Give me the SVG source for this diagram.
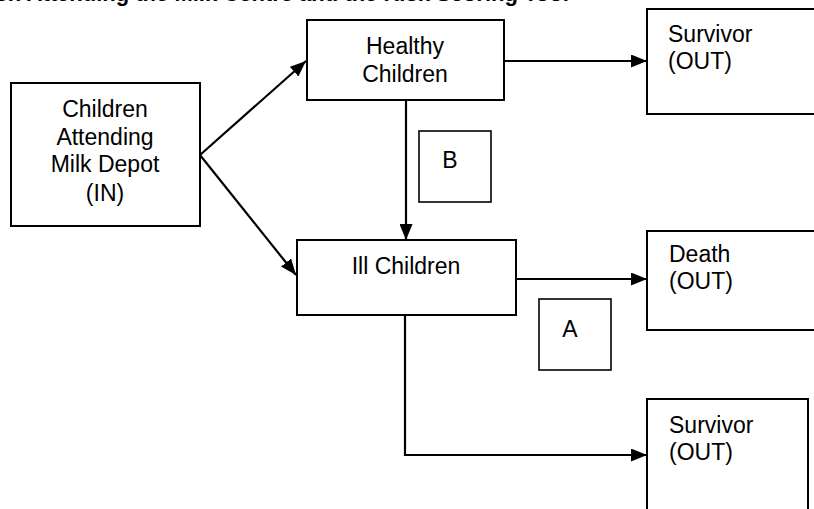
<svg xmlns="http://www.w3.org/2000/svg" width="814" height="509" viewBox="0 0 814 509">
  <style>
    .box { fill: #ffffff; stroke: #000000; stroke-width: 2; }
    .tag { fill: #ffffff; stroke: #000000; stroke-width: 1.6; }
    .lbl { font-family: "Liberation Sans", Arial, sans-serif; font-size: 23px; fill: #000000; }
    .mid { text-anchor: middle; }
    .title { font-family: "Liberation Sans", Arial, sans-serif; font-size: 22px; font-weight: bold; fill: #000000; }
    .link { fill: none; stroke: #000000; stroke-width: 2.2; marker-end: url(#arrow); }
  </style>
  <defs>
    <marker id="arrow" markerUnits="userSpaceOnUse" markerWidth="16" markerHeight="13" refX="16" refY="6.5" orient="auto">
      <path d="M0,0 L16,6.5 L0,13 z" fill="#000000"/>
    </marker>
  </defs>

  <rect x="0" y="0" width="814" height="509" fill="#ffffff"/>

  <!-- heading, cut at the top edge -->
  <text class="title" x="-68" y="1">Children Attending the Milk Centre and the Risk Scoring Tool</text>

  <g id="connectors">
    <path class="link" d="M200,155 L306,61"/>
    <path class="link" d="M200,155 L296,275"/>
    <path class="link" d="M504,61 L647,61"/>
    <path class="link" d="M406,100 L406,240"/>
    <path class="link" d="M516,279 L647,279"/>
    <path class="link" d="M405,315 L405,455 L647,455"/>
  </g>

  <g id="in">
    <rect class="box" x="11" y="83" width="189" height="143"/>
    <text class="lbl mid" x="105" y="117">Children</text>
    <text class="lbl mid" x="105" y="145">Attending</text>
    <text class="lbl mid" x="105" y="172">Milk Depot</text>
    <text class="lbl mid" x="105" y="201">(IN)</text>
  </g>

  <g id="healthy">
    <rect class="box" x="307" y="20" width="197" height="80"/>
    <text class="lbl mid" x="405" y="54">Healthy</text>
    <text class="lbl mid" x="405" y="82">Children</text>
  </g>

  <g id="ill">
    <rect class="box" x="297" y="240" width="219" height="75"/>
    <text class="lbl mid" x="406" y="274">Ill Children</text>
  </g>

  <g id="survivor-top">
    <rect class="box" x="647" y="9" width="172" height="105"/>
    <text class="lbl" x="668" y="42">Survivor</text>
    <text class="lbl" x="668" y="69">(OUT)</text>
  </g>

  <g id="death">
    <rect class="box" x="647" y="231" width="172" height="99"/>
    <text class="lbl" x="669" y="262">Death</text>
    <text class="lbl" x="669" y="289">(OUT)</text>
  </g>

  <g id="survivor-bottom">
    <rect class="box" x="647" y="399" width="161" height="120"/>
    <text class="lbl" x="669" y="433">Survivor</text>
    <text class="lbl" x="669" y="460">(OUT)</text>
  </g>

  <g id="tag-b">
    <rect class="tag" x="419" y="131" width="72" height="71"/>
    <text class="lbl mid" x="450" y="168">B</text>
  </g>

  <g id="tag-a">
    <rect class="tag" x="539" y="299" width="72" height="71"/>
    <text class="lbl mid" x="570" y="337">A</text>
  </g>
</svg>
